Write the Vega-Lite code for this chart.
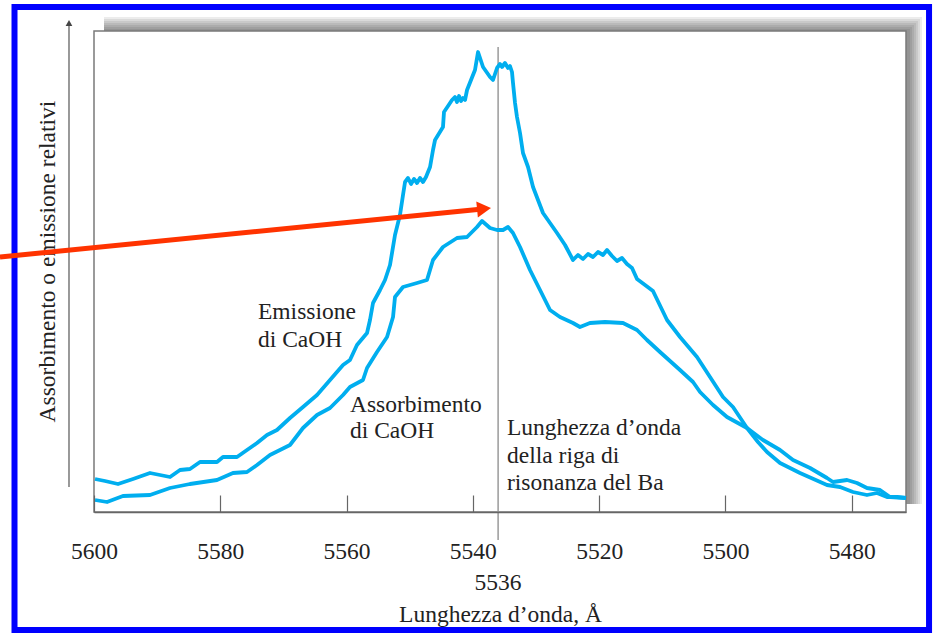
{
  "$schema": "https://vega.github.io/schema/vega-lite/v6.json",
  "width": 812,
  "height": 481,
  "autosize": "none",
  "padding": {"left": 94, "top": 31, "right": 30, "bottom": 121},
  "background": "white",
  "config": {"view": {"stroke": null}, "font": "Liberation Serif"},
  "datasets": {
    "frame": [{"wl": 5612.59, "wl2": 5467.75, "v": 505, "v2": -118}],
    "shadow": [
      {"wl": 5598.42, "wl2": 5468.86, "v": 495, "v2": 8},
      {"wl": 5598.42, "wl2": 5469.18, "v": 493, "v2": 8},
      {"wl": 5598.42, "wl2": 5469.50, "v": 491, "v2": 8},
      {"wl": 5598.42, "wl2": 5469.82, "v": 489, "v2": 8},
      {"wl": 5598.42, "wl2": 5470.13, "v": 487, "v2": 8},
      {"wl": 5598.42, "wl2": 5470.45, "v": 485, "v2": 8},
      {"wl": 5598.42, "wl2": 5470.77, "v": 483, "v2": 8}
    ],
    "plot": [{"wl": 5600, "wl2": 5471.4, "v": 0, "v2": 481}],
    "curves": [
      {"s": "Emissione", "wl": 5599.84, "v": 33},
      {"s": "Emissione", "wl": 5598.26, "v": 31},
      {"s": "Emissione", "wl": 5596.20, "v": 28},
      {"s": "Emissione", "wl": 5593.82, "v": 33},
      {"s": "Emissione", "wl": 5591.13, "v": 39},
      {"s": "Emissione", "wl": 5587.96, "v": 35},
      {"s": "Emissione", "wl": 5586.38, "v": 42},
      {"s": "Emissione", "wl": 5584.80, "v": 43},
      {"s": "Emissione", "wl": 5583.21, "v": 50},
      {"s": "Emissione", "wl": 5580.52, "v": 50},
      {"s": "Emissione", "wl": 5579.57, "v": 55},
      {"s": "Emissione", "wl": 5577.35, "v": 55},
      {"s": "Emissione", "wl": 5575.77, "v": 62},
      {"s": "Emissione", "wl": 5574.18, "v": 69},
      {"s": "Emissione", "wl": 5572.60, "v": 77},
      {"s": "Emissione", "wl": 5571.02, "v": 82},
      {"s": "Emissione", "wl": 5568.96, "v": 94},
      {"s": "Emissione", "wl": 5566.90, "v": 105},
      {"s": "Emissione", "wl": 5564.68, "v": 117},
      {"s": "Emissione", "wl": 5562.62, "v": 132},
      {"s": "Emissione", "wl": 5560.56, "v": 147},
      {"s": "Emissione", "wl": 5559.46, "v": 152},
      {"s": "Emissione", "wl": 5558.35, "v": 167},
      {"s": "Emissione", "wl": 5556.76, "v": 179},
      {"s": "Emissione", "wl": 5556.29, "v": 192},
      {"s": "Emissione", "wl": 5555.81, "v": 209},
      {"s": "Emissione", "wl": 5554.70, "v": 222},
      {"s": "Emissione", "wl": 5553.91, "v": 232},
      {"s": "Emissione", "wl": 5553.12, "v": 247},
      {"s": "Emissione", "wl": 5552.33, "v": 277},
      {"s": "Emissione", "wl": 5551.54, "v": 297},
      {"s": "Emissione", "wl": 5551.06, "v": 317},
      {"s": "Emissione", "wl": 5550.74, "v": 330},
      {"s": "Emissione", "wl": 5550.27, "v": 334},
      {"s": "Emissione", "wl": 5549.79, "v": 328},
      {"s": "Emissione", "wl": 5549.32, "v": 333},
      {"s": "Emissione", "wl": 5548.84, "v": 329},
      {"s": "Emissione", "wl": 5548.37, "v": 334},
      {"s": "Emissione", "wl": 5547.89, "v": 330},
      {"s": "Emissione", "wl": 5547.42, "v": 335},
      {"s": "Emissione", "wl": 5546.78, "v": 345},
      {"s": "Emissione", "wl": 5546.31, "v": 362},
      {"s": "Emissione", "wl": 5545.99, "v": 372},
      {"s": "Emissione", "wl": 5544.73, "v": 385},
      {"s": "Emissione", "wl": 5544.57, "v": 400},
      {"s": "Emissione", "wl": 5543.93, "v": 406},
      {"s": "Emissione", "wl": 5543.30, "v": 412},
      {"s": "Emissione", "wl": 5542.83, "v": 415},
      {"s": "Emissione", "wl": 5542.51, "v": 410},
      {"s": "Emissione", "wl": 5542.19, "v": 416},
      {"s": "Emissione", "wl": 5541.87, "v": 411},
      {"s": "Emissione", "wl": 5541.56, "v": 414},
      {"s": "Emissione", "wl": 5541.24, "v": 412},
      {"s": "Emissione", "wl": 5540.92, "v": 422},
      {"s": "Emissione", "wl": 5539.66, "v": 442},
      {"s": "Emissione", "wl": 5539.18, "v": 460},
      {"s": "Emissione", "wl": 5538.39, "v": 445},
      {"s": "Emissione", "wl": 5537.28, "v": 435},
      {"s": "Emissione", "wl": 5536.81, "v": 432},
      {"s": "Emissione", "wl": 5536.17, "v": 444},
      {"s": "Emissione", "wl": 5535.70, "v": 448},
      {"s": "Emissione", "wl": 5535.38, "v": 445},
      {"s": "Emissione", "wl": 5534.91, "v": 449},
      {"s": "Emissione", "wl": 5534.43, "v": 444},
      {"s": "Emissione", "wl": 5534.12, "v": 446},
      {"s": "Emissione", "wl": 5533.80, "v": 440},
      {"s": "Emissione", "wl": 5533.64, "v": 429},
      {"s": "Emissione", "wl": 5533.32, "v": 409},
      {"s": "Emissione", "wl": 5533.01, "v": 395},
      {"s": "Emissione", "wl": 5532.53, "v": 379},
      {"s": "Emissione", "wl": 5532.06, "v": 359},
      {"s": "Emissione", "wl": 5531.26, "v": 345},
      {"s": "Emissione", "wl": 5530.47, "v": 325},
      {"s": "Emissione", "wl": 5528.89, "v": 299},
      {"s": "Emissione", "wl": 5526.67, "v": 279},
      {"s": "Emissione", "wl": 5525.40, "v": 267},
      {"s": "Emissione", "wl": 5524.14, "v": 252},
      {"s": "Emissione", "wl": 5523.35, "v": 257},
      {"s": "Emissione", "wl": 5522.55, "v": 253},
      {"s": "Emissione", "wl": 5521.76, "v": 258},
      {"s": "Emissione", "wl": 5520.97, "v": 255},
      {"s": "Emissione", "wl": 5520.18, "v": 260},
      {"s": "Emissione", "wl": 5519.39, "v": 257},
      {"s": "Emissione", "wl": 5518.75, "v": 262},
      {"s": "Emissione", "wl": 5517.96, "v": 256},
      {"s": "Emissione", "wl": 5517.17, "v": 251},
      {"s": "Emissione", "wl": 5516.38, "v": 254},
      {"s": "Emissione", "wl": 5515.59, "v": 248},
      {"s": "Emissione", "wl": 5514.79, "v": 244},
      {"s": "Emissione", "wl": 5514.00, "v": 233},
      {"s": "Emissione", "wl": 5512.73, "v": 227},
      {"s": "Emissione", "wl": 5511.47, "v": 221},
      {"s": "Emissione", "wl": 5509.25, "v": 192},
      {"s": "Emissione", "wl": 5507.19, "v": 175},
      {"s": "Emissione", "wl": 5504.50, "v": 155},
      {"s": "Emissione", "wl": 5502.44, "v": 135},
      {"s": "Emissione", "wl": 5500.38, "v": 115},
      {"s": "Emissione", "wl": 5498.80, "v": 105},
      {"s": "Emissione", "wl": 5496.58, "v": 84},
      {"s": "Emissione", "wl": 5494.84, "v": 70},
      {"s": "Emissione", "wl": 5493.41, "v": 60},
      {"s": "Emissione", "wl": 5491.35, "v": 49},
      {"s": "Emissione", "wl": 5488.19, "v": 39},
      {"s": "Emissione", "wl": 5483.91, "v": 27},
      {"s": "Emissione", "wl": 5481.85, "v": 25},
      {"s": "Emissione", "wl": 5479.79, "v": 20},
      {"s": "Emissione", "wl": 5477.58, "v": 17},
      {"s": "Emissione", "wl": 5475.99, "v": 19},
      {"s": "Emissione", "wl": 5474.41, "v": 15},
      {"s": "Emissione", "wl": 5472.82, "v": 15},
      {"s": "Emissione", "wl": 5471.40, "v": 14},
      {"s": "Assorbimento", "wl": 5599.84, "v": 12},
      {"s": "Assorbimento", "wl": 5597.94, "v": 10},
      {"s": "Assorbimento", "wl": 5595.41, "v": 16},
      {"s": "Assorbimento", "wl": 5591.13, "v": 17},
      {"s": "Assorbimento", "wl": 5587.96, "v": 24},
      {"s": "Assorbimento", "wl": 5584.80, "v": 28},
      {"s": "Assorbimento", "wl": 5580.52, "v": 32},
      {"s": "Assorbimento", "wl": 5577.99, "v": 39},
      {"s": "Assorbimento", "wl": 5575.77, "v": 40},
      {"s": "Assorbimento", "wl": 5574.18, "v": 47},
      {"s": "Assorbimento", "wl": 5572.13, "v": 57},
      {"s": "Assorbimento", "wl": 5568.96, "v": 67},
      {"s": "Assorbimento", "wl": 5566.90, "v": 84},
      {"s": "Assorbimento", "wl": 5564.68, "v": 97},
      {"s": "Assorbimento", "wl": 5562.62, "v": 104},
      {"s": "Assorbimento", "wl": 5560.56, "v": 117},
      {"s": "Assorbimento", "wl": 5559.46, "v": 125},
      {"s": "Assorbimento", "wl": 5557.40, "v": 132},
      {"s": "Assorbimento", "wl": 5556.76, "v": 144},
      {"s": "Assorbimento", "wl": 5555.18, "v": 160},
      {"s": "Assorbimento", "wl": 5553.59, "v": 175},
      {"s": "Assorbimento", "wl": 5552.64, "v": 195},
      {"s": "Assorbimento", "wl": 5552.33, "v": 215},
      {"s": "Assorbimento", "wl": 5551.06, "v": 225},
      {"s": "Assorbimento", "wl": 5548.84, "v": 229},
      {"s": "Assorbimento", "wl": 5547.26, "v": 232},
      {"s": "Assorbimento", "wl": 5546.31, "v": 252},
      {"s": "Assorbimento", "wl": 5544.73, "v": 265},
      {"s": "Assorbimento", "wl": 5542.51, "v": 274},
      {"s": "Assorbimento", "wl": 5540.92, "v": 275},
      {"s": "Assorbimento", "wl": 5539.34, "v": 285},
      {"s": "Assorbimento", "wl": 5538.55, "v": 291},
      {"s": "Assorbimento", "wl": 5537.28, "v": 284},
      {"s": "Assorbimento", "wl": 5536.17, "v": 282},
      {"s": "Assorbimento", "wl": 5535.22, "v": 282},
      {"s": "Assorbimento", "wl": 5534.43, "v": 285},
      {"s": "Assorbimento", "wl": 5533.64, "v": 279},
      {"s": "Assorbimento", "wl": 5532.53, "v": 265},
      {"s": "Assorbimento", "wl": 5530.95, "v": 242},
      {"s": "Assorbimento", "wl": 5529.36, "v": 222},
      {"s": "Assorbimento", "wl": 5527.78, "v": 202},
      {"s": "Assorbimento", "wl": 5526.20, "v": 195},
      {"s": "Assorbimento", "wl": 5524.14, "v": 189},
      {"s": "Assorbimento", "wl": 5523.03, "v": 185},
      {"s": "Assorbimento", "wl": 5521.45, "v": 189},
      {"s": "Assorbimento", "wl": 5519.07, "v": 190},
      {"s": "Assorbimento", "wl": 5516.22, "v": 189},
      {"s": "Assorbimento", "wl": 5514.00, "v": 182},
      {"s": "Assorbimento", "wl": 5512.42, "v": 172},
      {"s": "Assorbimento", "wl": 5510.36, "v": 160},
      {"s": "Assorbimento", "wl": 5507.19, "v": 142},
      {"s": "Assorbimento", "wl": 5505.13, "v": 130},
      {"s": "Assorbimento", "wl": 5504.02, "v": 120},
      {"s": "Assorbimento", "wl": 5501.96, "v": 107},
      {"s": "Assorbimento", "wl": 5499.75, "v": 95},
      {"s": "Assorbimento", "wl": 5496.58, "v": 84},
      {"s": "Assorbimento", "wl": 5494.05, "v": 72},
      {"s": "Assorbimento", "wl": 5491.35, "v": 62},
      {"s": "Assorbimento", "wl": 5489.29, "v": 52},
      {"s": "Assorbimento", "wl": 5486.60, "v": 44},
      {"s": "Assorbimento", "wl": 5483.91, "v": 34},
      {"s": "Assorbimento", "wl": 5482.96, "v": 30},
      {"s": "Assorbimento", "wl": 5480.74, "v": 32},
      {"s": "Assorbimento", "wl": 5479.16, "v": 29},
      {"s": "Assorbimento", "wl": 5477.58, "v": 24},
      {"s": "Assorbimento", "wl": 5475.52, "v": 22},
      {"s": "Assorbimento", "wl": 5473.93, "v": 15},
      {"s": "Assorbimento", "wl": 5471.40, "v": 14}
    ],
    "baline": [{"wl": 5536, "v": 465, "v2": -28}],
    "yarrow": [{"wl": 5603.96, "v": 25, "v2": 486}],
    "yarrowhead": [{"wl": 5603.96, "v": 489}],
    "redarrow": [{"wl": 5614.89, "wl2": 5538.87, "v": 255, "v2": 302.8}],
    "redhead": [{"wl": 5538.23, "v": 303.2}],
    "notes": [
      {"wl": 5574.03, "v": 193, "t": "Emissione"},
      {"wl": 5574.03, "v": 165, "t": "di CaOH"},
      {"wl": 5559.46, "v": 100, "t": "Assorbimento"},
      {"wl": 5559.46, "v": 74, "t": "di CaOH"},
      {"wl": 5534.59, "v": 77, "t": "Lunghezza d’onda"},
      {"wl": 5534.59, "v": 49, "t": "della riga di"},
      {"wl": 5534.59, "v": 22, "t": "risonanza del Ba"}
    ],
    "balabel": [{"wl": 5536, "v": -71, "t": "5536"}]
  },
  "encoding": {
    "x": {
      "field": "wl",
      "type": "quantitative",
      "scale": {"domain": [5600, 5471.4], "nice": false, "zero": false},
      "axis": {
        "title": "Lunghezza d’onda, Å",
        "values": [5600, 5580, 5560, 5540, 5520, 5500, 5480],
        "format": "d",
        "grid": false,
        "labelFlush": false,
        "labelOverlap": false,
        "tickSize": -17,
        "tickColor": "#666",
        "tickWidth": 1.2,
        "domainColor": "#666",
        "domainWidth": 1.5,
        "labelPadding": 44,
        "labelFont": "Liberation Serif",
        "labelFontSize": 23.5,
        "labelColor": "#222",
        "titleFont": "Liberation Serif",
        "titleFontSize": 23.5,
        "titleFontWeight": "normal",
        "titleColor": "#222",
        "titlePadding": 40,
        "minExtent": 0,
        "zindex": 2
      }
    },
    "y": {
      "field": "v",
      "type": "quantitative",
      "scale": {"domain": [0, 481], "nice": false, "zero": false},
      "axis": {
        "title": "Assorbimento o emissione relativi",
        "domain": false,
        "ticks": false,
        "labels": false,
        "grid": false,
        "minExtent": 0,
        "titlePadding": 35,
        "titleY": 230,
        "titleFont": "Liberation Serif",
        "titleFontSize": 23.5,
        "titleFontWeight": "normal",
        "titleColor": "#222"
      }
    }
  },
  "layer": [
    {
      "data": {"name": "frame"},
      "mark": {"type": "rect", "fill": "white", "fillOpacity": 0, "stroke": "#0000ff", "strokeWidth": 6},
      "encoding": {"x2": {"field": "wl2"}, "y2": {"field": "v2"}}
    },
    {
      "data": {"name": "shadow"},
      "mark": {"type": "rect", "fill": "black", "fillOpacity": 0.075},
      "encoding": {"x2": {"field": "wl2"}, "y2": {"field": "v2"}}
    },
    {
      "data": {"name": "plot"},
      "mark": {"type": "rect", "fill": "white", "stroke": "#7a7a7a", "strokeWidth": 1.5},
      "encoding": {"x2": {"field": "wl2"}, "y2": {"field": "v2"}}
    },
    {
      "data": {"name": "baline"},
      "mark": {"type": "rule", "color": "#9a9a9a", "strokeWidth": 1.5},
      "encoding": {"y2": {"field": "v2"}}
    },
    {
      "data": {"name": "curves"},
      "mark": {"type": "line", "strokeWidth": 3.8, "strokeJoin": "round"},
      "encoding": {
        "color": {"field": "s", "type": "nominal", "scale": {"range": ["#00aeef", "#00aeef"]}, "legend": null}
      }
    },
    {
      "data": {"name": "yarrow"},
      "mark": {"type": "rule", "color": "#555", "strokeWidth": 1.2},
      "encoding": {"y2": {"field": "v2"}}
    },
    {
      "data": {"name": "yarrowhead"},
      "mark": {"type": "point", "shape": "triangle-up", "filled": true, "color": "#444", "size": 45, "opacity": 1}
    },
    {
      "data": {"name": "redarrow"},
      "mark": {"type": "rule", "color": "#ff3300", "strokeWidth": 5},
      "encoding": {"x2": {"field": "wl2"}, "y2": {"field": "v2"}}
    },
    {
      "data": {"name": "redhead"},
      "mark": {"type": "point", "shape": "triangle-right", "filled": true, "color": "#ff3300", "size": 260, "angle": -5.7, "opacity": 1}
    },
    {
      "data": {"name": "notes"},
      "mark": {"type": "text", "align": "left", "baseline": "alphabetic", "font": "Liberation Serif", "fontSize": 23.5, "color": "#222"},
      "encoding": {"text": {"field": "t"}}
    },
    {
      "data": {"name": "balabel"},
      "mark": {"type": "text", "align": "center", "baseline": "middle", "font": "Liberation Serif", "fontSize": 23.5, "color": "#222"},
      "encoding": {"text": {"field": "t"}}
    }
  ]
}
